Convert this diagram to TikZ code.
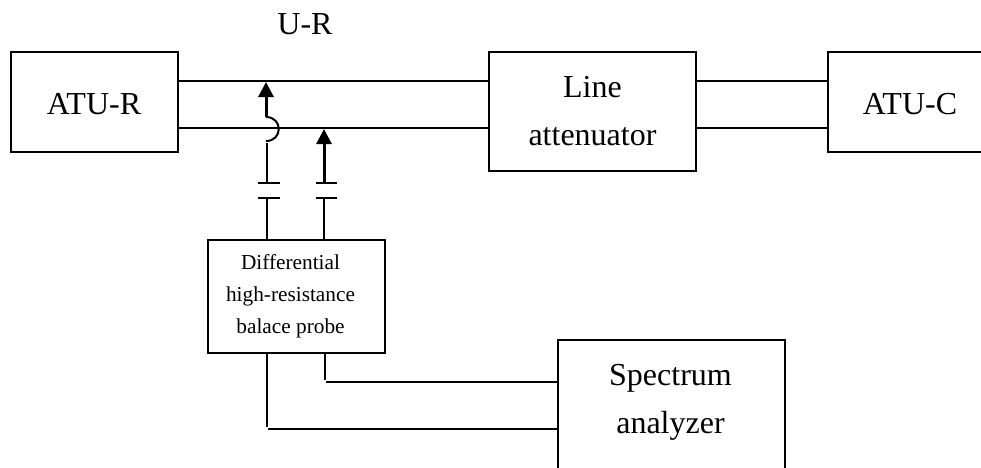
\documentclass[tikz,border=0pt]{standalone}
\usepackage{fontspec}
\setmainfont{Liberation Serif}
\usetikzlibrary{arrows.meta}
\tikzset{
  box/.style={draw=black,line width=2pt,inner sep=0pt,align=center,anchor=north west},
  big/.style={font=\fontsize{32}{48}\selectfont},
  small/.style={font=\fontsize{21.3}{32}\selectfont},
  txt/.style={inner sep=0pt,align=center},
  wire/.style={draw=black,line width=2pt},
  heavy wire/.style={draw=black,line width=3pt},
  probe arrow/.style={heavy wire,-{Triangle[length=15pt,width=15pt]}},
}
\begin{document}
\begin{tikzpicture}[x=1pt,y=-1pt]
\useasboundingbox (0,0) rectangle (981,467);
\clip (0,0) rectangle (981,467);
% boxes
\node[box,minimum width=167pt,minimum height=100pt] (atur) at (10,51) {};
\node[box,big,minimum width=207pt,minimum height=119pt] (line) at (488,51) {Line\\attenuator};
\node[box,minimum width=170pt,minimum height=100pt] (atuc) at (827,51) {};
\node[box,minimum width=177pt,minimum height=113pt] (probe) at (207,239) {};
\node[box,minimum width=227pt,minimum height=142pt] (spec) at (557,339) {};
\node[txt,big,anchor=base] (ur) at (305,34.5) {U-R};
\node[txt,big,anchor=base] (turtxt) at (94,114.5) {ATU-R};
\node[txt,big,anchor=base] (tuctxt) at (910,114) {ATU-C};
\node[txt,small] (ptxt) at (290.5,296) {Differential\\high-resistance\\balace probe};
\node[txt,big] (sptxt) at (670.5,402.5) {Spectrum\\analyzer};
% lines
\coordinate (ua) at (0,81);
\coordinate (lb) at (0,128);
\draw[wire] (atur.east |- ua) -- (line.west |- ua);
\draw[wire] (atur.east |- lb) -- (line.west |- lb);
\draw[wire] (line.east |- ua) -- (atuc.west |- ua);
\draw[wire] (line.east |- lb) -- (atuc.west |- lb);
% probe 1
\coordinate (t1) at (266,82);
\coordinate (h1a) at (266,117);
\coordinate (h1b) at (266,141);
\coordinate (h1c) at (267,143);
\coordinate (c1a) at (267,183);
\coordinate (c1b) at (267,198);
\coordinate (c1l) at (258,183);
\coordinate (c1r) at (280,183);
\coordinate (d1l) at (258,198);
\coordinate (d1r) at (280,198);
\draw[probe arrow] (h1a) -- (t1);
\draw[wire] (h1a) .. controls (283,117) and (283,141) .. (h1b);
\draw[wire] (h1c) -- (c1a);
\draw[wire] (c1l) -- (c1r);
\draw[wire] (d1l) -- (d1r);
\draw[wire] (c1b) -- (probe.north -| c1b);
% probe 2
\coordinate (t2) at (324,129);
\coordinate (c2a) at (324,183);
\coordinate (c2b) at (324,198);
\coordinate (c2l) at (316,183);
\coordinate (c2r) at (337,183);
\coordinate (d2l) at (316,198);
\coordinate (d2r) at (337,198);
\draw[probe arrow] (c2a) -- (t2);
\draw[wire] (c2l) -- (c2r);
\draw[wire] (d2l) -- (d2r);
\draw[wire] (c2b) -- (probe.north -| c2b);
% probe to analyzer (small gaps at the elbows, as in the reference)
\coordinate (s1v) at (324.5,380);
\coordinate (s1h) at (326,382);
\coordinate (s2v) at (267,427);
\coordinate (s2h) at (268,429);
\draw[wire] (probe.south -| s1v) -- (s1v);
\draw[wire] (s1h) -- (spec.west |- s1h);
\draw[wire] (probe.south -| s2v) -- (s2v);
\draw[wire] (s2h) -- (spec.west |- s2h);
\end{tikzpicture}
\end{document}
